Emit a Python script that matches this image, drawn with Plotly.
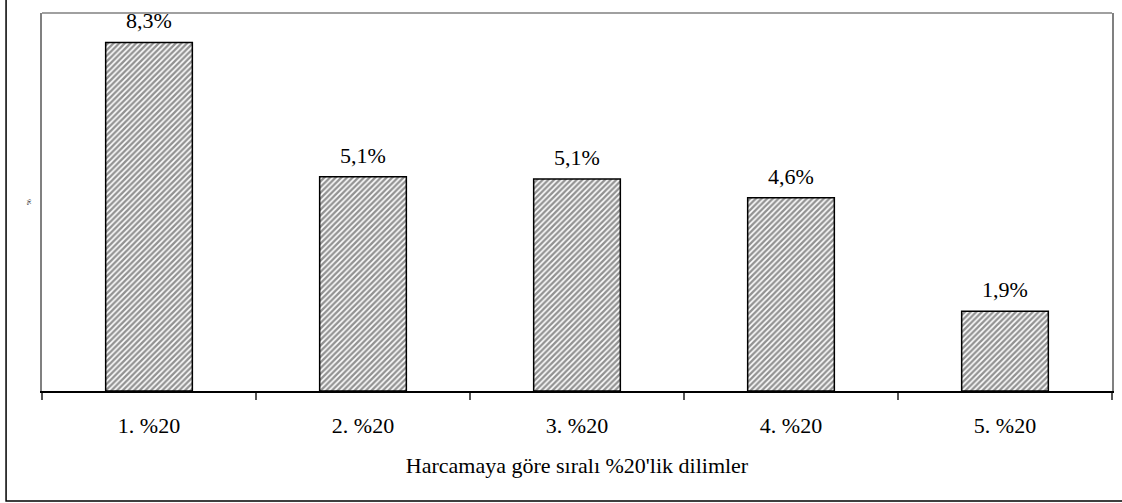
import plotly.graph_objects as go

categories = ["1. %20", "2. %20", "3. %20", "4. %20", "5. %20"]
values = [8.3, 5.1, 5.05, 4.6, 1.9]
value_labels = ["8,3%", "5,1%", "5,1%", "4,6%", "1,9%"]
x_title = "Harcamaya göre sıralı %20'lik dilimler"
y_title = "%"

FONT = "Liberation Serif"

fig = go.Figure()
fig.add_trace(go.Bar(
    x=categories,
    y=values,
    width=0.405,
    marker=dict(
        color="white",
        line=dict(color="black", width=1.5),
        pattern=dict(shape="/", fgcolor="#262626", bgcolor="white", size=4, solidity=0.6),
    ),
    hoverinfo="skip",
))

for c, v, lab in zip(categories, values, value_labels):
    fig.add_annotation(x=c, y=v, text=lab, showarrow=False, yanchor="bottom",
                       yshift=7, font=dict(family=FONT, size=22, color="black"))

fig.update_layout(
    width=1122, height=503,
    margin=dict(l=42, r=8, t=13, b=112),
    paper_bgcolor="white", plot_bgcolor="white",
    showlegend=False,
    font=dict(family=FONT, color="black"),
    xaxis=dict(
        showline=True, linecolor="black", linewidth=1.5,
        ticks="outside", tickson="boundaries", ticklen=7, tickcolor="#555555", tickwidth=1.5,
        ticklabelstandoff=14,
        tickfont=dict(family=FONT, size=22, color="black"),
        title=dict(text=x_title, font=dict(family=FONT, size=22, color="black"), standoff=20),
        showgrid=False,
    ),
    yaxis=dict(
        range=[0, 9], showticklabels=False, ticks="",
        showline=True, linecolor="#808080", linewidth=1.5, mirror=True,
        showgrid=False, zeroline=False,
        title=dict(text=y_title, font=dict(family=FONT, size=7, color="black"), standoff=8),
    ),
    shapes=[
        dict(type="line", xref="paper", yref="paper", x0=0, x1=1, y0=1, y1=1,
             line=dict(color="#808080", width=1.5)),
        dict(type="rect", xref="paper", yref="paper",
             x0=-36/1072, x1=1.05, y0=-110/378, y1=1.1,
             line=dict(color="black", width=1.5), layer="below"),
    ],
)

fig.write_html("out.html", config={"displayModeBar": False},
               post_script="document.body.style.margin='0';document.body.style.overflow='hidden';")
